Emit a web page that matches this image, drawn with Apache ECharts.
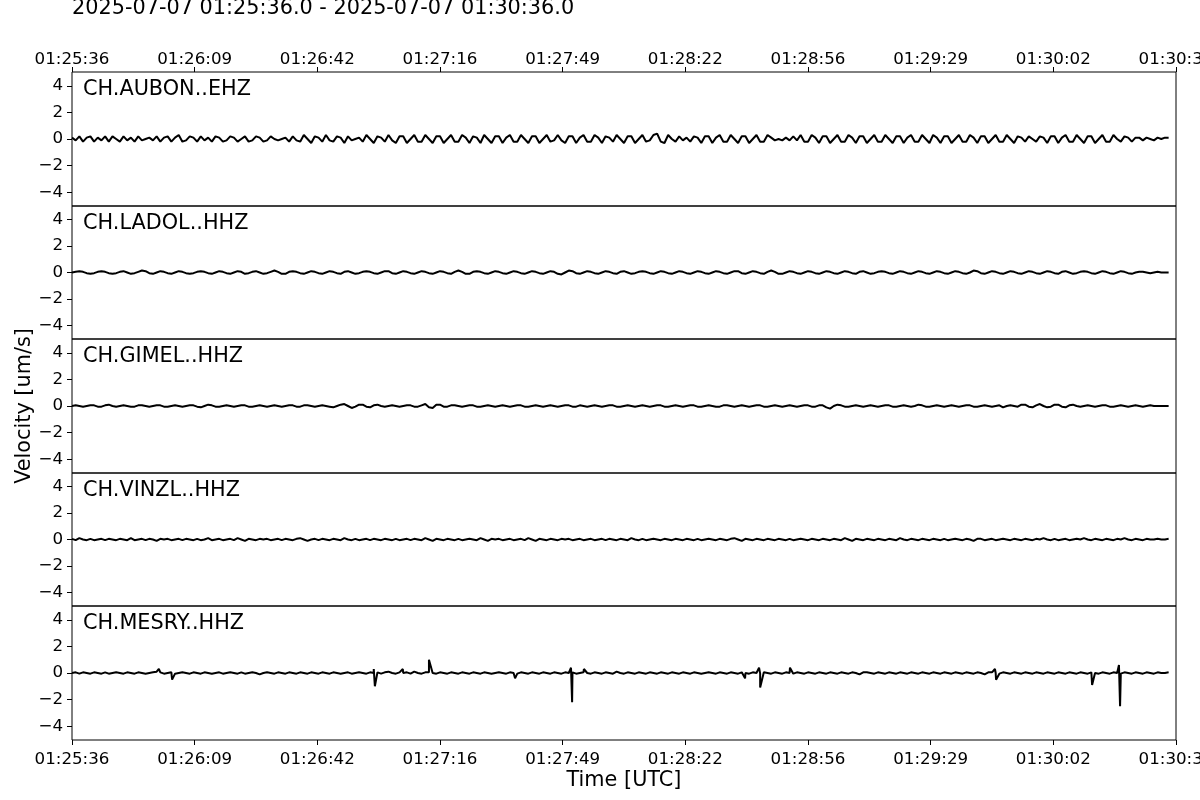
<!DOCTYPE html>
<html><head><meta charset="utf-8">
<script src="https://cdn.jsdelivr.net/npm/echarts@6/dist/echarts.min.js"></script>
<style>html,body{margin:0;padding:0;background:#fff}#c{width:1200px;height:800px}</style>
</head><body><div id="c"></div><script>
const titleText = '2025-07-07 01:25:36.0 - 2025-07-07 01:30:36.0';
const stations = ['CH.AUBON..EHZ','CH.LADOL..HHZ','CH.GIMEL..HHZ','CH.VINZL..HHZ','CH.MESRY..HHZ'];
const xTickLabels = ['01:25:36','01:26:09','01:26:42','01:27:16','01:27:49','01:28:22','01:28:56','01:29:29','01:30:02','01:30:36'];
const yTicks = [-4,-2,0,2,4];
const durationSec = 300;
const sampleStep = 1; // seconds between samples

const aubon = [
0.1,-0.1,0.2,-0.2,0.1,0.2,-0.2,0.1,-0.1,0.2,-0.2,0.2,0.0,-0.2,0.2,-0.1,0.1,-0.2,0.2,-0.1,
0.0,0.1,-0.1,0.2,-0.2,0.1,0.2,-0.2,0.1,0.3,-0.2,-0.1,0.2,0.1,-0.2,0.2,-0.1,0.1,-0.2,0.2,
0.1,-0.2,-0.1,0.2,0.1,-0.2,0.0,0.2,-0.2,-0.1,0.2,0.1,-0.2,-0.1,0.2,0.0,-0.1,0.0,0.1,-0.2,
0.2,-0.1,-0.2,0.3,0.0,-0.3,0.2,0.1,-0.2,0.3,-0.1,-0.2,0.2,0.1,-0.3,0.2,-0.1,0.0,0.1,-0.2,
0.3,0.0,-0.3,0.2,0.1,-0.2,0.3,-0.1,-0.3,0.2,0.2,-0.3,0.0,0.3,-0.2,-0.2,0.3,0.0,-0.3,0.2,
0.2,-0.3,0.0,0.3,-0.2,-0.2,0.3,0.1,-0.3,0.2,0.1,-0.3,0.3,0.0,-0.3,0.2,0.2,-0.3,0.1,0.3,
-0.2,-0.2,0.3,0.0,-0.3,0.2,0.2,-0.3,0.0,0.3,-0.2,-0.1,0.3,-0.1,-0.3,0.2,0.2,-0.3,0.1,0.3,
-0.2,-0.2,0.3,0.1,-0.3,0.2,0.1,-0.2,0.3,0.0,-0.3,0.2,0.2,-0.3,0.0,0.3,-0.2,-0.1,0.3,0.4,
-0.2,-0.3,0.3,0.0,-0.2,0.2,-0.1,0.1,-0.2,0.2,0.1,-0.3,0.2,0.2,-0.3,0.1,0.3,-0.2,-0.2,0.3,
0.0,-0.3,0.2,0.2,-0.3,0.0,0.3,-0.2,-0.2,0.3,0.1,-0.1,0.0,-0.1,0.1,-0.1,0.2,-0.1,0.3,-0.2,
-0.2,0.3,0.1,-0.3,0.2,0.2,-0.3,0.0,0.3,-0.2,-0.2,0.3,0.1,-0.3,0.2,0.2,-0.3,0.0,0.3,-0.2,
-0.2,0.3,0.0,-0.3,0.2,0.2,-0.3,0.1,0.3,-0.2,-0.2,0.3,0.0,-0.3,0.3,0.1,-0.3,0.2,0.2,-0.3,
0.0,0.3,-0.2,-0.2,0.3,0.1,-0.3,0.2,0.2,-0.3,0.0,0.3,-0.2,-0.2,0.3,0.0,-0.3,0.2,0.1,-0.2,
0.2,0.0,-0.2,0.2,0.1,-0.3,0.2,0.2,-0.3,0.1,0.3,-0.2,-0.2,0.3,0.0,-0.3,0.2,0.2,-0.3,0.0,
0.3,-0.2,-0.2,0.3,0.0,-0.2,0.2,0.1,-0.2,0.1,0.1,-0.1,0.1,0.0,-0.1,0.1,0.0,0.1,0.1
];

const ladol = [
0.0,0.05,0.1,0.05,-0.05,-0.1,-0.05,0.05,0.1,0.05,-0.05,-0.1,-0.05,0.05,0.1,0.0,-0.1,-0.05,0.05,0.15,
0.1,-0.05,-0.1,0.0,0.1,0.05,-0.05,-0.1,0.0,0.1,0.05,-0.05,-0.1,-0.05,0.05,0.1,0.05,-0.05,-0.1,0.0,
0.1,0.05,-0.05,-0.1,0.0,0.1,0.05,-0.1,-0.05,0.05,0.1,0.0,-0.1,-0.05,0.05,0.15,0.05,-0.1,-0.1,0.05,
0.1,0.05,-0.05,-0.1,0.0,0.1,0.05,-0.05,-0.1,0.0,0.1,0.05,-0.05,-0.1,0.05,0.1,0.0,-0.1,-0.05,0.05,
0.1,0.05,-0.05,-0.1,0.0,0.1,0.1,-0.05,-0.1,0.0,0.1,0.05,-0.05,-0.1,0.0,0.1,0.05,-0.05,-0.1,0.0,
0.1,0.05,-0.05,-0.1,0.05,0.15,0.05,-0.1,-0.1,0.05,0.1,0.05,-0.05,-0.1,0.0,0.1,0.05,-0.05,-0.1,0.0,
0.1,0.05,-0.05,-0.1,0.0,0.1,0.05,-0.05,-0.1,0.0,0.1,0.05,-0.1,-0.15,0.0,0.15,0.1,-0.05,-0.1,0.0,
0.1,0.05,-0.05,-0.1,0.0,0.1,0.05,-0.05,-0.1,0.05,0.1,0.0,-0.1,-0.05,0.05,0.1,0.05,-0.05,-0.1,0.0,
0.1,0.05,-0.05,-0.1,0.0,0.1,0.05,-0.05,-0.1,0.0,0.1,0.05,-0.05,-0.1,0.0,0.1,0.05,-0.05,-0.1,0.0,
0.1,0.1,-0.05,-0.1,0.0,0.1,0.05,-0.05,-0.1,0.05,0.15,0.05,-0.1,-0.1,0.0,0.1,0.05,-0.05,-0.1,0.0,
0.1,0.05,-0.05,-0.1,0.0,0.1,0.05,-0.05,-0.1,0.0,0.1,0.05,-0.05,-0.1,0.05,0.1,0.0,-0.1,-0.05,0.05,
0.1,0.05,-0.05,-0.1,0.0,0.1,0.05,-0.05,-0.1,0.0,0.1,0.05,-0.05,-0.1,0.0,0.1,0.05,-0.05,-0.1,0.0,
0.1,0.05,-0.05,-0.1,0.0,0.15,0.1,-0.05,-0.1,0.0,0.1,0.05,-0.05,-0.1,0.0,0.1,0.05,-0.05,-0.1,0.0,
0.1,0.05,-0.05,-0.1,0.0,0.1,0.05,-0.05,-0.1,0.05,0.1,0.0,-0.1,-0.05,0.05,0.1,0.05,-0.05,-0.1,0.0,
0.1,0.05,-0.05,-0.1,0.0,0.1,0.05,-0.05,-0.1,0.0,0.05,0.05,0.0,-0.05,0.0,0.05,0.0,0.0,0.0
];

const gimel = [
0.0,0.05,0.0,-0.05,0.0,0.05,0.05,-0.05,-0.05,0.05,0.1,0.0,-0.05,0.0,0.05,0.0,-0.05,-0.05,0.05,0.05,
0.0,-0.05,0.0,0.05,0.05,-0.05,-0.05,0.0,0.05,0.0,-0.05,0.0,0.05,0.05,-0.05,-0.1,0.0,0.1,0.05,-0.05,
-0.05,0.0,0.05,0.0,-0.05,0.0,0.05,0.05,-0.05,-0.05,0.0,0.05,0.0,-0.05,0.0,0.05,0.0,-0.05,0.0,0.05,
0.05,-0.05,-0.05,0.05,0.05,0.0,-0.05,0.0,0.05,0.0,-0.05,-0.1,0.0,0.1,0.15,0.0,-0.15,-0.05,0.1,0.1,
-0.05,-0.1,0.05,0.1,0.0,-0.05,0.0,0.05,0.0,-0.05,0.0,0.05,0.05,-0.05,-0.05,0.05,0.15,-0.1,-0.15,0.1,
0.1,-0.05,-0.05,0.05,0.05,0.0,-0.05,0.0,0.05,0.05,-0.05,-0.05,0.0,0.05,0.0,-0.05,0.0,0.05,0.0,-0.05,
0.0,0.05,0.05,-0.05,-0.05,0.0,0.05,0.0,-0.05,0.0,0.05,0.0,-0.05,0.0,0.05,0.05,-0.05,-0.05,0.05,0.0,
-0.05,0.0,0.05,0.0,-0.05,0.0,0.05,0.05,-0.05,-0.05,0.0,0.05,0.0,-0.05,0.0,0.05,0.0,-0.05,0.0,0.05,
0.05,-0.05,-0.05,0.0,0.05,0.0,-0.05,0.0,0.05,0.05,-0.05,-0.05,0.0,0.05,0.0,-0.05,-0.05,0.05,0.05,0.0,
-0.05,0.0,0.05,0.0,-0.05,0.0,0.05,0.05,-0.05,-0.05,0.0,0.05,0.0,-0.05,0.0,0.05,0.0,-0.05,0.0,0.05,
0.05,-0.05,-0.05,0.05,0.05,-0.1,-0.2,0.0,0.1,0.05,-0.05,-0.05,0.0,0.05,0.0,-0.05,0.0,0.05,0.0,-0.05,
0.0,0.05,0.05,-0.05,-0.05,0.0,0.05,0.0,-0.05,0.0,0.1,0.05,-0.05,-0.05,0.0,0.05,0.0,-0.05,0.0,0.05,
0.0,-0.05,0.0,0.05,0.05,-0.05,-0.05,0.0,0.05,0.0,-0.05,0.0,0.05,-0.1,0.0,0.05,0.0,-0.05,0.1,0.1,
-0.05,-0.1,0.05,0.15,0.0,-0.1,-0.05,0.1,0.1,-0.05,-0.1,0.05,0.1,0.0,-0.05,0.0,0.05,0.0,-0.05,0.0,
0.05,0.05,-0.05,-0.05,0.0,0.05,0.0,-0.05,0.0,0.05,0.0,-0.05,0.0,0.05,0.0,0.0,0.0,0.0,0.0
];

const vinzl = [
0.05,-0.05,0.1,0.0,-0.05,0.05,-0.05,0.0,0.05,-0.05,0.05,0.0,-0.05,0.05,0.0,-0.05,0.1,-0.05,0.0,0.05,
-0.05,0.05,0.0,-0.1,0.05,0.0,0.05,-0.05,0.0,0.05,-0.05,0.05,0.0,-0.05,0.05,-0.05,0.0,0.1,-0.05,0.0,
0.05,-0.05,0.0,0.05,-0.05,0.1,0.0,-0.1,0.05,0.0,-0.05,0.05,0.0,0.05,-0.05,0.0,0.05,-0.05,0.05,0.0,
-0.05,0.05,0.1,0.0,-0.1,0.0,0.05,-0.05,0.05,0.0,-0.05,0.05,0.0,-0.05,0.1,0.0,-0.05,0.05,-0.05,0.0,
0.05,-0.05,0.05,0.0,-0.05,0.05,0.0,-0.05,0.05,-0.05,0.0,0.05,-0.05,0.05,0.0,-0.05,0.1,0.0,-0.1,0.05,
0.0,-0.05,0.05,0.0,-0.05,0.05,-0.05,0.0,0.05,0.0,-0.05,0.1,0.0,-0.1,0.05,0.0,0.05,-0.05,0.0,0.05,
-0.05,0.0,0.05,-0.05,0.1,0.0,-0.1,0.05,0.0,-0.05,0.05,0.0,-0.05,0.05,0.0,0.05,-0.05,0.0,0.05,-0.05,
0.0,0.05,-0.05,0.0,0.05,-0.05,0.05,0.0,-0.05,0.05,0.0,-0.05,0.1,0.0,-0.05,0.05,-0.05,0.0,0.05,0.0,
-0.05,0.05,0.0,-0.05,0.05,0.0,-0.05,0.05,0.0,-0.05,0.05,-0.05,0.0,0.05,0.0,-0.05,0.05,0.0,-0.05,0.05,
0.1,0.0,-0.1,0.05,0.0,-0.05,0.05,0.0,-0.05,0.05,0.0,-0.05,0.05,0.0,-0.05,0.05,-0.05,0.0,0.05,0.0,
-0.05,0.05,0.0,-0.05,0.05,0.0,-0.05,0.05,0.0,-0.05,0.1,0.0,-0.1,0.05,0.0,-0.05,0.05,0.0,-0.05,0.05,
0.0,-0.05,0.05,0.0,-0.05,0.1,0.0,-0.05,0.05,0.0,-0.05,0.05,0.0,-0.05,0.05,0.0,-0.05,0.05,-0.05,0.0,
0.05,0.0,-0.05,0.05,0.0,-0.1,0.05,0.05,-0.05,0.0,0.05,-0.05,0.0,0.05,0.0,-0.05,0.05,0.0,-0.05,0.05,
0.0,-0.05,0.05,0.0,0.1,0.0,-0.05,0.05,-0.05,0.0,0.05,-0.05,0.0,0.05,0.0,0.1,0.0,-0.05,0.05,0.0,
-0.05,0.05,0.0,-0.05,0.05,0.0,0.1,0.0,-0.05,0.05,0.0,-0.05,0.05,0.0,0.0,0.05,0.0,0.0,0.05
];

const mesry = [
0.0,0.05,-0.05,0.05,0.0,-0.05,0.05,0.0,-0.05,0.05,-0.05,0.0,0.05,0.0,-0.05,0.05,0.0,-0.05,0.05,0.0,
-0.05,0.0,0.05,0.1,0.05,-0.05,0.0,0.05,-0.05,0.0,0.05,0.0,-0.05,0.05,0.0,-0.05,0.05,0.0,-0.05,0.0,
0.05,-0.05,0.0,0.05,0.0,-0.05,0.05,-0.05,0.0,0.05,0.0,-0.1,0.0,0.05,0.0,-0.05,0.05,0.0,-0.05,0.05,
0.0,-0.05,0.05,0.0,-0.05,0.05,0.0,-0.05,0.05,0.0,-0.05,0.05,0.0,-0.05,0.0,0.05,-0.05,0.0,0.05,0.0,
-0.05,0.05,0.0,0.05,-0.05,0.05,0.1,0.0,-0.05,0.05,0.0,0.05,-0.05,0.1,0.0,-0.05,0.05,0.05,0.0,-0.05,
0.05,0.0,-0.05,0.05,0.0,-0.05,0.05,0.0,-0.05,0.05,0.0,-0.05,0.05,0.0,-0.05,0.0,0.05,0.0,-0.05,0.05,
0.0,-0.05,0.05,0.0,-0.05,0.05,0.0,-0.05,0.05,0.0,-0.05,0.05,0.0,-0.05,0.05,0.0,0.05,-0.05,0.0,0.05,
0.0,-0.05,0.05,0.0,-0.05,0.05,0.0,-0.05,0.1,0.0,-0.05,0.05,0.0,-0.05,0.05,0.0,-0.05,0.05,0.0,-0.05,
0.05,0.0,-0.05,0.05,0.0,-0.05,0.05,0.0,-0.05,0.05,0.0,-0.05,0.0,0.05,0.0,-0.05,0.05,0.0,-0.05,0.05,
0.0,-0.05,0.05,0.0,-0.05,0.05,0.0,-0.05,0.05,0.0,-0.05,0.05,0.0,-0.05,0.05,0.0,-0.05,0.05,0.0,-0.05,
0.05,0.0,-0.05,0.05,0.0,-0.05,0.05,0.0,-0.05,0.05,0.0,-0.05,0.05,0.0,-0.1,0.05,0.05,0.0,-0.05,0.05,
0.0,-0.05,0.05,0.0,-0.05,0.05,0.0,-0.05,0.05,0.0,-0.05,0.05,0.0,-0.05,0.05,0.0,-0.05,0.05,0.0,-0.05,
0.05,0.0,-0.05,0.05,0.0,-0.05,0.05,0.0,-0.1,0.05,0.05,0.0,-0.05,0.05,0.0,-0.05,0.05,0.0,-0.05,0.05,
0.0,-0.05,0.05,0.0,-0.05,0.05,0.0,-0.05,0.05,0.0,-0.05,0.05,0.0,-0.05,0.05,0.0,-0.05,0.05,0.0,-0.05,
0.05,0.0,-0.05,0.05,0.0,-0.05,0.05,0.0,-0.05,0.05,0.0,-0.05,0.05,0.0,-0.05,0.05,0.0,0.0,0.05
];
// impulsive spikes on MESRY (time in s, value um/s)
const mesrySpikeT = [23.6, 27.2, 82.0, 82.3, 89.9, 97.0, 120.4, 135.6, 135.9, 139.1, 182.9, 186.7, 187.0, 195.1, 250.8, 251.1, 277.2, 284.5, 284.8];
const mesrySpikeV = [0.3, -0.5, 0.3, -1.0, 0.3, 1.0, -0.4, 0.4, -2.2, 0.3, -0.4, 0.4, -1.1, 0.4, 0.3, -0.5, -0.9, 0.6, -2.5];

const traces = [aubon, ladol, gimel, vinzl, mesry];

function toPairs(vals){ return vals.map((v,i)=>[i*sampleStep, v]); }
const seriesData = traces.map(toPairs);
mesrySpikeT.forEach((t,k)=>seriesData[4].push([t, mesrySpikeV[k]]));
seriesData[4].sort((a,b)=>a[0]-b[0]);

const xTickVals = xTickLabels.map((_,i)=>i*durationSec/(xTickLabels.length-1));
const gridTops = [72,206,339,473,606];
const gridHeights = [134,133,134,133,134];
const FONT = 'DejaVu Sans';

const grids=[], xAxes=[], yAxes=[], series=[], graphics=[];
for(let i=0;i<5;i++){
  grids.push({left:72, width:1104, top:gridTops[i], height:gridHeights[i], show:true, borderColor:'#000', borderWidth:1, backgroundColor:'transparent', containLabel:false, outerBoundsMode:'none'});
  const edge = (i===0||i===4);
  xAxes.push({gridIndex:i, type:'value', min:0, max:durationSec, position: i===0?'top':'bottom',
    axisLine:{show:false, onZero:false}, splitLine:{show:false},
    axisTick:{show:edge, customValues:xTickVals, length:5, lineStyle:{color:'#000', width:1}},
    axisLabel:{show:edge, customValues:xTickVals, color:'#000', fontSize:16.7, fontFamily:FONT, margin: i===0?4:11,
      formatter:(v)=>xTickLabels[Math.round(v/(durationSec/(xTickLabels.length-1)))]}
  });
  yAxes.push({gridIndex:i, type:'value', min:-5.04, max:5.04,
    axisLine:{show:false, onZero:false}, splitLine:{show:false},
    axisTick:{show:true, customValues:yTicks, length:5, lineStyle:{color:'#000', width:1}},
    axisLabel:{customValues:yTicks, color:'#000', fontSize:16.7, fontFamily:FONT, margin:9,
      formatter:(v)=> v<0 ? '\u2212'+Math.abs(v) : String(v)}
  });
  series.push({type:'line', xAxisIndex:i, yAxisIndex:i, data:seriesData[i], showSymbol:false, symbol:'none',
    lineStyle:{color:'#000', width:2}, animation:false, silent:true, clip:true});
  graphics.push({type:'text', x:83, y:gridTops[i]+18, silent:true,
    style:{text:stations[i], fill:'#000', font:'20.8px "DejaVu Sans"', textAlign:'left', textVerticalAlign:'middle', align:'left', verticalAlign:'middle'}});
}
graphics.push({type:'text', x:72, y:9, style:{text:titleText, fill:'#000', font:'20.8px "DejaVu Sans"', textAlign:'left', textVerticalAlign:'middle', align:'left', verticalAlign:'middle'}});
graphics.push({type:'text', x:624, y:781, style:{text:'Time [UTC]', fill:'#000', font:'20.8px "DejaVu Sans"', textAlign:'center', textVerticalAlign:'middle', align:'center', verticalAlign:'middle'}});
graphics.push({type:'text', x:25, y:406, rotation:Math.PI/2, style:{text:'Velocity [um/s]', fill:'#000', font:'20.8px "DejaVu Sans"', textAlign:'center', textVerticalAlign:'middle', align:'center', verticalAlign:'middle'}});

const chart = echarts.init(document.getElementById('c'), null, {renderer:'canvas'});
chart.setOption({animation:false, backgroundColor:'#fff', grid:grids, xAxis:xAxes, yAxis:yAxes, series:series, graphic:graphics});
</script></body></html>
